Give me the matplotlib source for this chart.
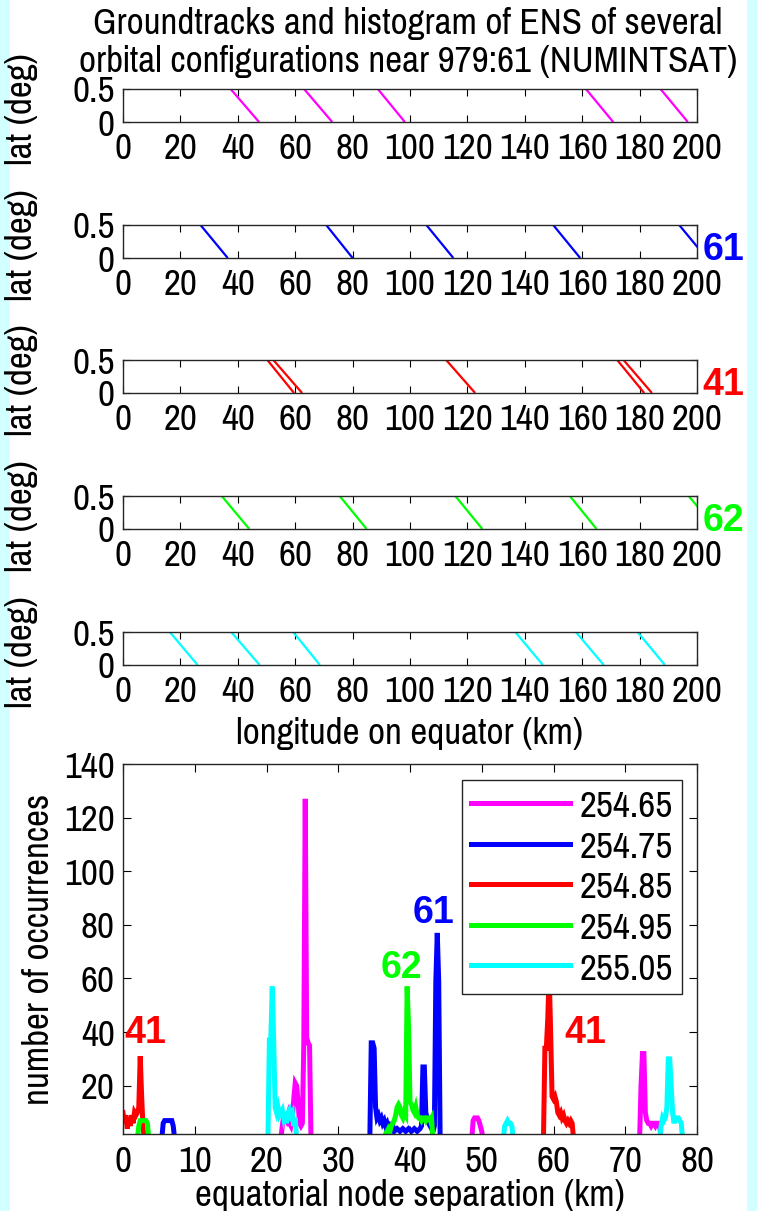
import matplotlib
matplotlib.use('Agg')
import matplotlib.pyplot as plt
from matplotlib.patches import Rectangle

# ---------------- data ----------------
colors = ['#ff00ff', '#0000ff', '#ff0000', '#00ff00', '#00ffff']
legend_labels = ['254.65', '254.75', '254.85', '254.95', '255.05']

# groundtracks: longitude (km) where each descending track is at lat 0.5 and at lat 0
gt_magenta_top = [37.5, 63.1, 88.8, 161.3, 187.3]
gt_magenta_bot = [47.4, 72.9, 98.2, 170.8, 196.8]
gt_blue_top = [27.0, 70.8, 105.7, 149.9, 193.8]
gt_blue_bot = [36.5, 80.0, 115.1, 159.3, 203.3]
gt_red_top = [50.3, 52.4, 112.6, 172.2, 174.4]
gt_red_bot = [59.6, 62.4, 122.7, 181.6, 184.3]
gt_green_top = [34.4, 75.5, 115.8, 155.7, 197.1]
gt_green_bot = [44.0, 84.9, 125.2, 165.0, 206.7]
gt_cyan_top = [16.3, 37.7, 59.3, 136.7, 157.8, 179.3]
gt_cyan_bot = [26.0, 47.6, 68.6, 146.3, 167.5, 188.8]
gt_lat = [0.5, 0.0]
side_labels = [None, '61', '41', '62', None]

# histogram of equatorial node separation (km) -> number of occurrences
h_magenta_x = [22.0, 22.2, 22.4, 22.6, 22.8, 23.0, 23.2, 23.4, 23.6, 23.8, 24.0, 24.2, 24.4, 24.6, 24.8, 25.0, 25.2, 25.4, 25.6, 25.8, 26.0, 26.2,
               48.6, 48.8, 49.0, 49.2, 49.4, 49.6, 49.8, 50.0, 50.2,
               72.0, 72.2, 72.4, 72.6, 72.8, 73.0, 73.2, 73.4, 73.6, 73.8, 74.0, 74.2, 74.4, 74.6, 74.8, 75.0]
h_magenta_y = [0, 5, 9, 8, 7, 9, 6, 5, 8, 15, 21, 20, 14, 6, 5, 6, 36, 127, 38, 36, 35, 0,
               0, 7, 8, 8, 8, 7, 5, 3, 0,
               0, 20, 32, 32, 10, 7, 6, 6, 5, 6, 6, 5, 6, 6, 5, 0]

h_blue_x = [5.4, 5.6, 5.8, 6.0, 6.2, 6.4, 6.6, 6.8, 7.0, 7.2,
            34.4, 34.6, 34.8, 35.0, 35.2, 35.4, 35.6, 35.8, 36.0, 36.2, 36.4, 36.6, 36.8, 37.0, 37.2, 37.4, 37.6, 37.8,
            38.2, 38.6, 39.0, 39.4, 39.8, 40.2, 40.6, 41.0, 41.4, 41.6, 41.8, 42.0, 42.2, 42.4, 42.6, 42.8, 43.0, 43.2,
            43.4, 43.6, 43.8, 44.0, 44.2]
h_blue_y = [0, 6, 7, 7, 7, 7, 7, 7, 5, 0,
            0, 36, 36, 34, 12, 8, 9, 7, 8, 6, 7, 5, 6, 4, 5, 4, 5, 3,
            4, 3, 4, 3, 4, 3, 4, 3, 4, 5, 27, 27, 10, 8, 6, 5, 4, 3,
            5, 59, 77, 59, 0]

h_red_x = [0.0, 0.2, 0.4, 0.6, 0.8, 1.0, 1.2, 1.4, 1.6, 1.8, 2.0, 2.2, 2.4, 2.6, 2.8, 3.0,
           58.6, 58.8, 59.0, 59.2, 59.4, 59.6, 59.8, 60.0, 60.2, 60.4, 60.6, 60.8, 61.0, 61.2, 61.4, 61.6, 61.8, 62.0,
           62.2, 62.4, 62.6, 62.8]
h_red_y = [10, 6, 9, 4, 8, 5, 9, 6, 10, 9, 10, 12, 31, 16, 4, 0,
           0, 34, 34, 45, 62, 40, 16, 15, 16, 14, 10, 9, 10, 8, 9, 7, 6, 7,
           6, 7, 6, 0]

h_green_x = [2.0, 2.2, 2.4, 2.6, 2.8, 3.0, 3.2, 3.4, 3.6,
             36.4, 36.6, 36.8, 37.0, 37.2, 37.4, 37.6, 37.8, 38.0, 38.2, 38.4, 38.6, 38.8, 39.0, 39.2, 39.4, 39.6, 39.8,
             40.0, 40.2, 40.4, 40.6, 40.8, 41.0, 41.2, 41.4, 41.6, 41.8, 42.0, 42.2, 42.4, 42.6, 42.8, 43.0, 43.2]
h_green_y = [0, 5, 7, 7, 7, 7, 7, 6, 0,
             0, 2, 3, 4, 3, 5, 6, 7, 9, 12, 13, 12, 9, 8, 10, 9, 57, 42,
             14, 13, 11, 10, 12, 9, 8, 8, 7, 8, 8, 7, 8, 8, 7, 8, 0]

h_cyan_x = [20.2, 20.4, 20.6, 20.8, 21.0, 21.2, 21.4, 21.6, 21.8, 22.0, 22.2, 22.4, 22.6, 22.8, 23.0, 23.2, 23.4, 23.6,
            23.8, 24.0, 24.2,
            53.0, 53.2, 53.4, 53.6, 53.8, 54.0, 54.2, 54.4,
            74.8, 75.0, 75.2, 75.4, 75.6, 75.8, 76.0, 76.2, 76.4, 76.6, 76.8, 77.0, 77.2, 77.4, 77.6, 77.8, 78.0]
h_cyan_y = [0, 37, 37, 57, 37, 12, 10, 12, 9, 10, 11, 8, 10, 6, 10, 11, 9, 10,
            5, 8, 0,
            0, 5, 6, 7, 6, 6, 5, 0,
            0, 5, 8, 7, 8, 12, 30, 30, 20, 10, 6, 8, 8, 8, 7, 6, 0]

hist_x = [h_magenta_x, h_blue_x, h_red_x, h_green_x, h_cyan_x]
hist_y = [h_magenta_y, h_blue_y, h_red_y, h_green_y, h_cyan_y]

# peak annotations: (x, baseline y, text, colour index)
ann_x = [3.05, 38.85, 43.25, 64.5]
ann_y = [35.8, 60.0, 80.6, 35.8]
ann_t = ['41', '62', '61', '41']
ann_c = [2, 3, 1, 2]

title_lines = ['Groundtracks and histogram of ENS of several',
               'orbital configurations near 979:61 (NUMINTSAT)']

# ---------------- figure ----------------
W, H = 757, 1211
NARROW = ['Pragati Narrow', 'Archivo Narrow', 'Liberation Sans', 'DejaVu Sans']
plt.rcParams['font.family'] = NARROW

fig = plt.figure(figsize=(W / 100, H / 100), dpi=100, facecolor='#d2ffff')
fig.patches.append(Rectangle((10 / W, 0), (747 - 10) / W, 1, transform=fig.transFigure,
                             facecolor='white', edgecolor='none', zorder=-10))

FS = 29
BOLD = dict(family=['Liberation Sans', 'DejaVu Sans'], fontweight='bold', fontsize=27)


def px_axes(left, top, right, bottom):
    return fig.add_axes([left / W, 1 - bottom / H, (right - left) / W, (bottom - top) / H])


def style(ax, length, xpad):
    ax.tick_params(direction='in', top=True, right=True, length=length, width=0.8,
                   labelsize=FS, colors='black')
    ax.tick_params(axis='x', pad=xpad)
    ax.tick_params(axis='y', pad=6)
    for s in ax.spines.values():
        s.set_color('#262626')
        s.set_linewidth(1.0)


for k, line in enumerate(title_lines):
    fig.text(408 / W, 1 - (23 + 38 * k) / H, line, ha='center', va='center', fontsize=FS)

gt_top = [gt_magenta_top, gt_blue_top, gt_red_top, gt_green_top, gt_cyan_top]
gt_bot = [gt_magenta_bot, gt_blue_bot, gt_red_bot, gt_green_bot, gt_cyan_bot]
tops = [89, 225, 360, 496, 632]

for i in range(5):
    ax = px_axes(123, tops[i], 697, tops[i] + 33)
    for a, b in zip(gt_top[i], gt_bot[i]):
        ax.plot([a, b], gt_lat, color=colors[i], lw=1.6, solid_capstyle='butt')
    ax.set_xlim(0, 200)
    ax.set_ylim(0, 0.5)
    ax.set_xticks(range(0, 201, 20))
    ax.set_yticks([0, 0.5])
    ax.set_yticklabels(['0', '0.5'])
    style(ax, 5, 7)
    ax.set_ylabel('lat (deg)', fontsize=FS)
    ax.yaxis.set_label_coords(-0.148, 0.4)
    if side_labels[i]:
        ax.text(1.01, -0.05, side_labels[i], transform=ax.transAxes, ha='left', va='baseline',
                color=colors[i], **BOLD)
    if i == 4:
        ax.set_xlabel('longitude on equator (km)', fontsize=FS, labelpad=7)

# histogram
hx = px_axes(123, 764, 697, 1134)
lines = []
for i in range(5):
    ln, = hx.plot(hist_x[i], hist_y[i], color=colors[i], lw=3.6, solid_joinstyle='miter')
    lines.append(ln)
hx.set_xlim(0, 80)
hx.set_ylim(2, 140)
hx.set_xticks(range(0, 81, 10))
hx.set_yticks(range(20, 141, 20))
style(hx, 6, 8)
hx.set_xlabel('equatorial node separation (km)', fontsize=FS, labelpad=1)
hx.set_ylabel('number of occurrences', fontsize=FS)
hx.yaxis.set_label_coords(-0.118, 0.5)
for x, y, t, c in zip(ann_x, ann_y, ann_t, ann_c):
    hx.text(x, y, t, ha='center', va='baseline', color=colors[c], **BOLD)

leg = hx.legend(lines, legend_labels, loc='upper left', bbox_to_anchor=(0.5906, 0.957),
                fontsize=FS, frameon=True, fancybox=False, framealpha=1, edgecolor='#262626',
                handlelength=2.45, handletextpad=0.25, labelspacing=0.16, borderpad=0.22,
                borderaxespad=0)
leg.get_frame().set_linewidth(1.0)
for l in leg.get_lines():
    l.set_linewidth(3.6)

fig.savefig('out.png', dpi=100, facecolor=fig.get_facecolor())
